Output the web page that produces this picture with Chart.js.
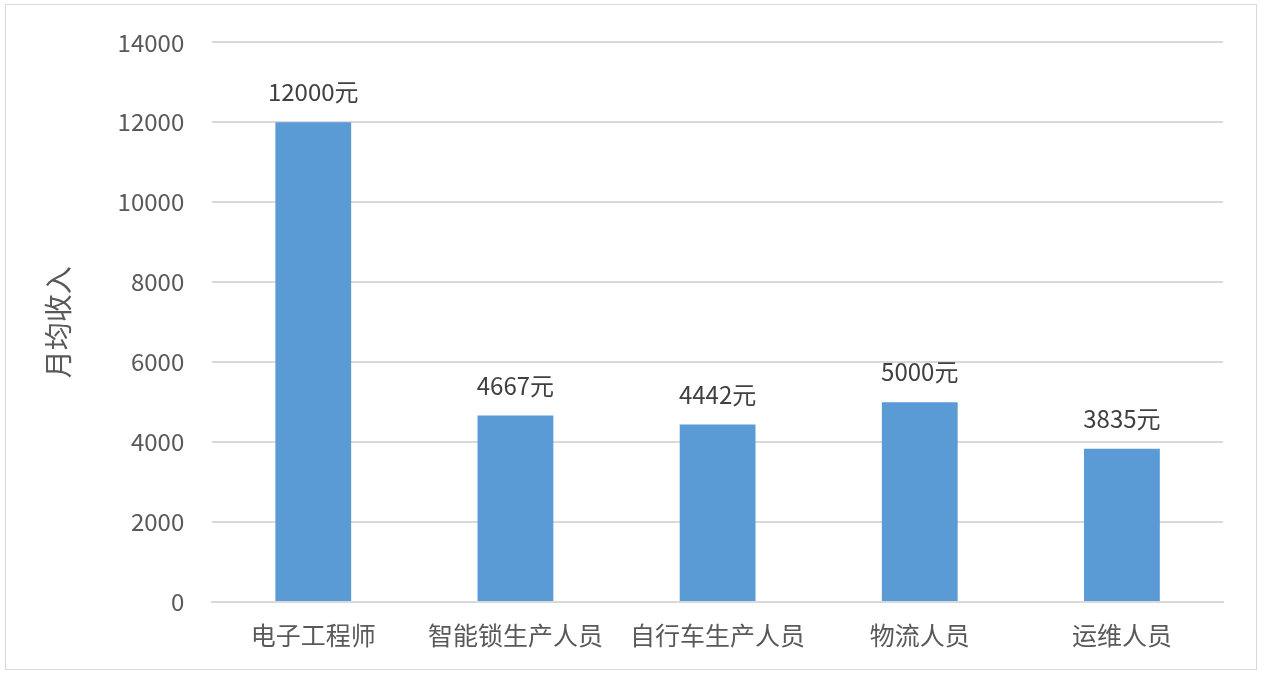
<!DOCTYPE html>
<html>
<head>
<meta charset="utf-8">
<script src="https://cdn.jsdelivr.net/npm/chart.js@4/dist/chart.umd.min.js"></script>
<style>
  html, body { margin: 0; padding: 0; background: #fff; }
  #wrap { position: absolute; left: 5px; top: 4px; width: 1252px; height: 666px; border: 1px solid #d9d9d9; box-sizing: border-box; }
  canvas { position: absolute; left: 0; top: 0; }
</style>
</head>
<body>
<div id="wrap"></div>
<canvas id="c" width="1269" height="680"></canvas>
<script>
// chart data
const categories = ['电子工程师', '智能锁生产人员', '自行车生产人员', '物流人员', '运维人员'];
const income = [12000, 4667, 4442, 5000, 3835];
const labels = ['12000元', '4667元', '4442元', '5000元', '3835元'];

const font = '"Noto Sans CJK SC", "Noto Sans", sans-serif';

// values above each bar
const valueLabels = {
  id: 'valueLabels',
  afterDatasetsDraw(chart) {
    const ctx = chart.ctx;
    const meta = chart.getDatasetMeta(0);
    ctx.save();
    ctx.fillStyle = '#404040';
    ctx.font = '24px ' + font;
    ctx.textAlign = 'center';
    ctx.textBaseline = 'bottom';
    meta.data.forEach((bar, i) => {
      ctx.fillText(labels[i], bar.x, bar.y - 18);
    });
    ctx.restore();
  }
};

new Chart(document.getElementById('c'), {
  type: 'bar',
  data: {
    labels: categories,
    datasets: [{
      data: income,
      backgroundColor: '#5b9bd5',
      barPercentage: 0.375,
      categoryPercentage: 1
    }]
  },
  options: {
    responsive: false,
    animation: false,
    layout: { padding: { left: 38, right: 46, top: 28, bottom: 20 } },
    plugins: { legend: { display: false }, tooltip: { enabled: false } },
    scales: {
      x: {
        grid: { display: false },
        border: { color: '#d9d9d9', width: 2 },
        ticks: { color: '#595959', font: { size: 25, family: font }, padding: 10 }
      },
      y: {
        min: 0, max: 14000,
        ticks: { stepSize: 2000, color: '#595959', font: { size: 24, family: font }, padding: 28,
                 callback: v => String(v) },
        grid: { color: '#d9d9d9', lineWidth: 2, drawTicks: false },
        border: { display: false },
        title: { display: true, text: '月均收入', color: '#595959', font: { size: 28, family: font }, padding: { bottom: 14 } }
      }
    }
  },
  plugins: [valueLabels]
});
</script>
</body>
</html>
